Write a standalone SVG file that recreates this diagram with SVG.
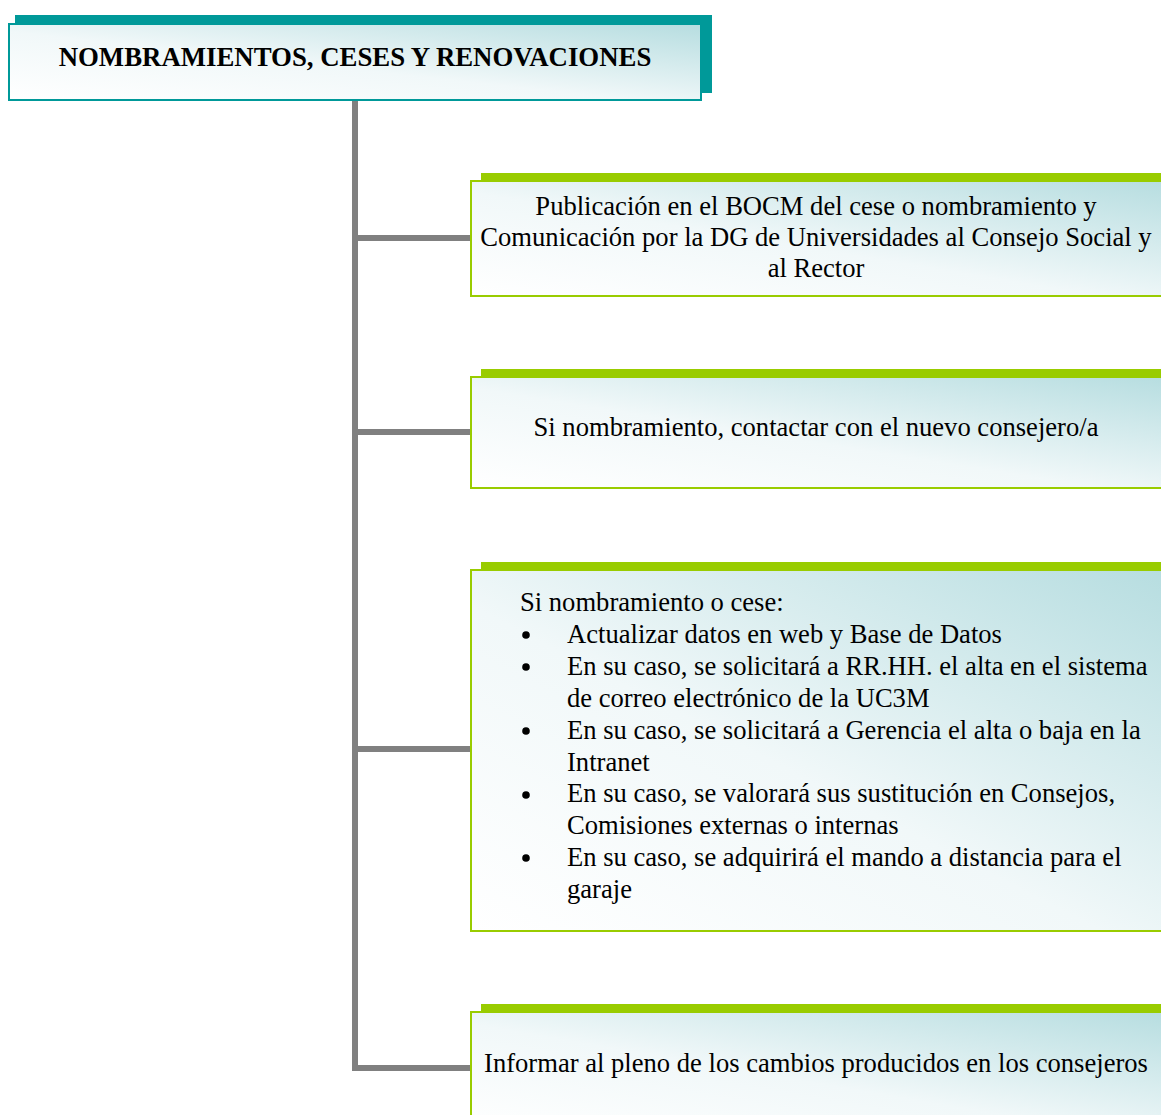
<svg xmlns="http://www.w3.org/2000/svg" width="1161" height="1115" viewBox="0 0 1161 1115">
<defs>
<linearGradient id="gb" x1="0" y1="1" x2="1" y2="0">
<stop offset="0" stop-color="#ffffff"/>
<stop offset="0.45" stop-color="#f1f8f9"/>
<stop offset="1" stop-color="#b6dde0"/>
</linearGradient>
<style>
.conn{stroke:#808080;stroke-width:6;fill:none}
.tshadow{fill:#009999}
.tbox{fill:url(#gb);stroke:#009999;stroke-width:2}
.gshadow{fill:#99cc00}
.gbox{fill:url(#gb);stroke:#99cc00;stroke-width:2}
.title{font-family:"Liberation Serif","Times New Roman",serif;font-weight:bold;font-size:26.8px;fill:#000}
.t{font-family:"Liberation Serif","Times New Roman",serif;font-size:26.6px;fill:#000}
</style>
</defs>
<rect width="1161" height="1115" fill="#fff"/>
<g id="connectors">
<path class="conn" d="M355 100 V1068 H472"/>
<path class="conn" d="M355 238 H472"/>
<path class="conn" d="M355 432 H472"/>
<path class="conn" d="M355 749 H472"/>
</g>
<g id="title">
<rect class="tshadow" x="15" y="15" width="697" height="78"/>
<rect class="tbox" x="9" y="24" width="692" height="76"/>
<text class="title" x="355" y="66" text-anchor="middle">NOMBRAMIENTOS, CESES Y RENOVACIONES</text>
</g>
<g id="node1">
<rect class="gshadow" x="481" y="173" width="690" height="9"/>
<rect class="gbox" x="471" y="181" width="700" height="115"/>
<text class="t" text-anchor="middle"><tspan x="816" y="215">Publicación en el BOCM del cese o nombramiento y</tspan><tspan x="816" y="246">Comunicación por la DG de Universidades al Consejo Social y</tspan><tspan x="816" y="277">al Rector</tspan></text>
</g>
<g id="node2">
<rect class="gshadow" x="481" y="369" width="690" height="9"/>
<rect class="gbox" x="471" y="377" width="700" height="111"/>
<text class="t" x="816" y="436" text-anchor="middle">Si nombramiento, contactar con el nuevo consejero/a</text>
</g>
<g id="node3">
<rect class="gshadow" x="481" y="562" width="690" height="9"/>
<rect class="gbox" x="471" y="570" width="700" height="361"/>
<text class="t"><tspan x="520" y="611">Si nombramiento o cese:</tspan><tspan x="567" y="643">Actualizar datos en web y Base de Datos</tspan><tspan x="567" y="675">En su caso, se solicitará a RR.HH. el alta en el sistema</tspan><tspan x="567" y="707">de correo electrónico de la UC3M</tspan><tspan x="567" y="739">En su caso, se solicitará a Gerencia el alta o baja en la</tspan><tspan x="567" y="771">Intranet</tspan><tspan x="567" y="802">En su caso, se valorará sus sustitución en Consejos,</tspan><tspan x="567" y="834">Comisiones externas o internas</tspan><tspan x="567" y="866">En su caso, se adquirirá el mando a distancia para el</tspan><tspan x="567" y="898">garaje</tspan></text>
<g fill="#000"><circle cx="526" cy="635" r="3.8"/><circle cx="526" cy="667" r="3.8"/><circle cx="526" cy="731" r="3.8"/><circle cx="526" cy="795" r="3.8"/><circle cx="526" cy="858" r="3.8"/></g>
</g>
<g id="node4">
<rect class="gshadow" x="481" y="1004" width="690" height="9"/>
<rect class="gbox" x="471" y="1012" width="700" height="120"/>
<text class="t" x="816" y="1072" text-anchor="middle">Informar al pleno de los cambios producidos en los consejeros</text>
</g>
</svg>
